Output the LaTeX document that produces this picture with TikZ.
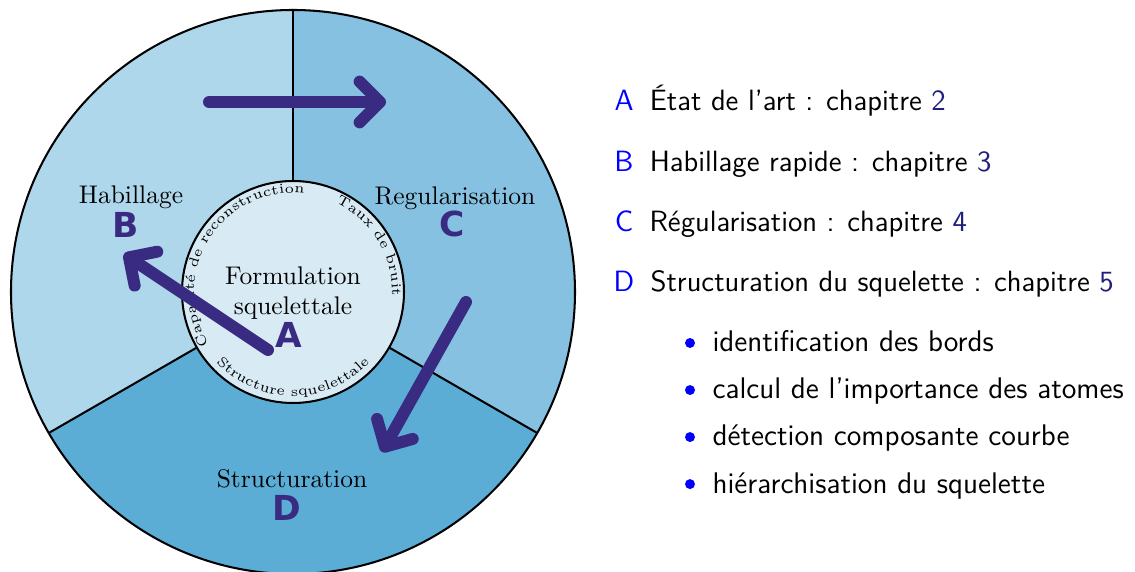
\documentclass[tikz,border=0pt]{standalone}
\usepackage{fontspec}
\newfontfamily\letterfont{DejaVu Sans}
\usepackage{xcolor}
\usetikzlibrary{positioning, arrows.meta, decorations.text}

\definecolor{secB}{HTML}{AFD7EB}
\definecolor{secC}{HTML}{86C1E1}
\definecolor{secD}{HTML}{5BADD6}
\definecolor{core}{HTML}{D8EBF5}
\definecolor{flow}{HTML}{3A2B82}
\definecolor{chap}{HTML}{1E1E7C}

\tikzset{
  sectorlabel/.style={font=\normalsize},
  bigletter/.style={text=flow, font=\letterfont\bfseries\fontsize{13.5}{16}\selectfont},
  flowarrow/.style={draw=flow, line width=4.7pt, line cap=round, line join=round,
    -{Straight Barb[length=8pt, width=16pt, round]}},
  arctext/.style={decorate, decoration={text along path, text align=center,
    text={|\fontsize{5.4}{6.5}\selectfont|#1}}},
  keyletter/.style={inner sep=0pt, text=blue, font=\sffamily\fontsize{11.5}{13}\selectfont},
  keytext/.style={inner sep=0pt, font=\sffamily\fontsize{11.5}{13}\selectfont},
  dot/.style={circle, fill=blue, inner sep=0pt, minimum size=3.9pt},
  subtext/.style={inner sep=0pt, text height=7pt, text depth=0pt, font=\sffamily\fontsize{11.7}{13}\selectfont}
}

\begin{document}
\begin{tikzpicture}[x=0.01378cm, y=0.01378cm]
  \useasboundingbox (-293,-280) rectangle (842,292);

  % Secteurs
  \fill[secB] (0,0) -- (90:282) arc[start angle=90, end angle=210, radius=282] -- cycle;
  \fill[secD] (0,0) -- (210:282) arc[start angle=210, end angle=330, radius=282] -- cycle;
  \fill[secC] (0,0) -- (330:282) arc[start angle=-30, end angle=90, radius=282] -- cycle;
  \draw[thick] (0,0) circle[radius=282];
  \draw[thick] (90:111) -- (90:282);
  \draw[thick] (210:111) -- (210:282);
  \draw[thick] (330:111) -- (330:282);

  % Coeur
  \filldraw[fill=core, thick] (0,0) circle[radius=111];
  \path[arctext={Capacité de reconstruction}] (225:99) arc[start angle=225, end angle=70, radius=99];
  \path[arctext={Taux de bruit}] (72:99) arc[start angle=72, end angle=-10, radius=99];
  \path[arctext={Structure squelettale}] (210:104) arc[start angle=210, end angle=330, radius=104];

  % Etiquettes
  \node[sectorlabel, align=center] (formulation) at (0,-1) {Formulation\\squelettale};
  \node[bigletter] (letterA) at (-4,-43) {A};
  \node[sectorlabel] (habillage) at (-162,95) {Habillage};
  \node[bigletter] (letterB) at (-167,67) {B};
  \node[sectorlabel] (regul) at (162,94) {Regularisation};
  \node[bigletter] (letterC) at (159,68) {C};
  \node[sectorlabel] (structuration) at (-1,-187) {Structuration};
  \node[bigletter] (letterD) at (-6,-216) {D};

  % Flèches
  \coordinate (topStart) at (-84,190);
  \coordinate (topEnd) at (93,190);
  \coordinate (leftStart) at (-25,-58);
  \coordinate (leftEnd) at (-169,38);
  \coordinate (rightStart) at (173,-10);
  \coordinate (rightEnd) at (89,-160);
  \draw[flowarrow] (topStart) -- (topEnd);
  \draw[flowarrow] (leftStart) -- (leftEnd);
  \draw[flowarrow] (rightStart) -- (rightEnd);

  % Légende
  \node[keyletter, anchor=base west] (keyA) at (321,181) {A};
  \node[keyletter, below of=keyA, node distance=0.827cm] (keyB) {B};
  \node[keyletter, below of=keyB, node distance=0.827cm] (keyC) {C};
  \node[keyletter, below of=keyC, node distance=0.827cm] (keyD) {D};
  \node[keytext, base right=6pt of keyA] (textA) {État de l'art : chapitre {\color{chap}2}};
  \node[keytext, base right=6pt of keyB] (textB) {Habillage rapide : chapitre {\color{chap}3}};
  \node[keytext, base right=6pt of keyC] (textC) {Régularisation : chapitre {\color{chap}4}};
  \node[keytext, base right=6pt of keyD] (textD) {Structuration du squelette : chapitre {\color{chap}5}};

  % Sous-étapes
  \node[dot] (dotA) at (397,-51) {};
  \node[dot, below of=dotA, node distance=0.648cm] (dotB) {};
  \node[dot, below of=dotB, node distance=0.648cm] (dotC) {};
  \node[dot, below of=dotC, node distance=0.648cm] (dotD) {};
  \node[subtext, right=6.5pt of dotA] (subA) {identification des bords};
  \node[subtext, right=6.5pt of dotB] (subB) {calcul de l'importance des atomes};
  \node[subtext, right=6.5pt of dotC] (subC) {détection composante courbe};
  \node[subtext, right=6.5pt of dotD] (subD) {hiérarchisation du squelette};
\end{tikzpicture}
\end{document}
